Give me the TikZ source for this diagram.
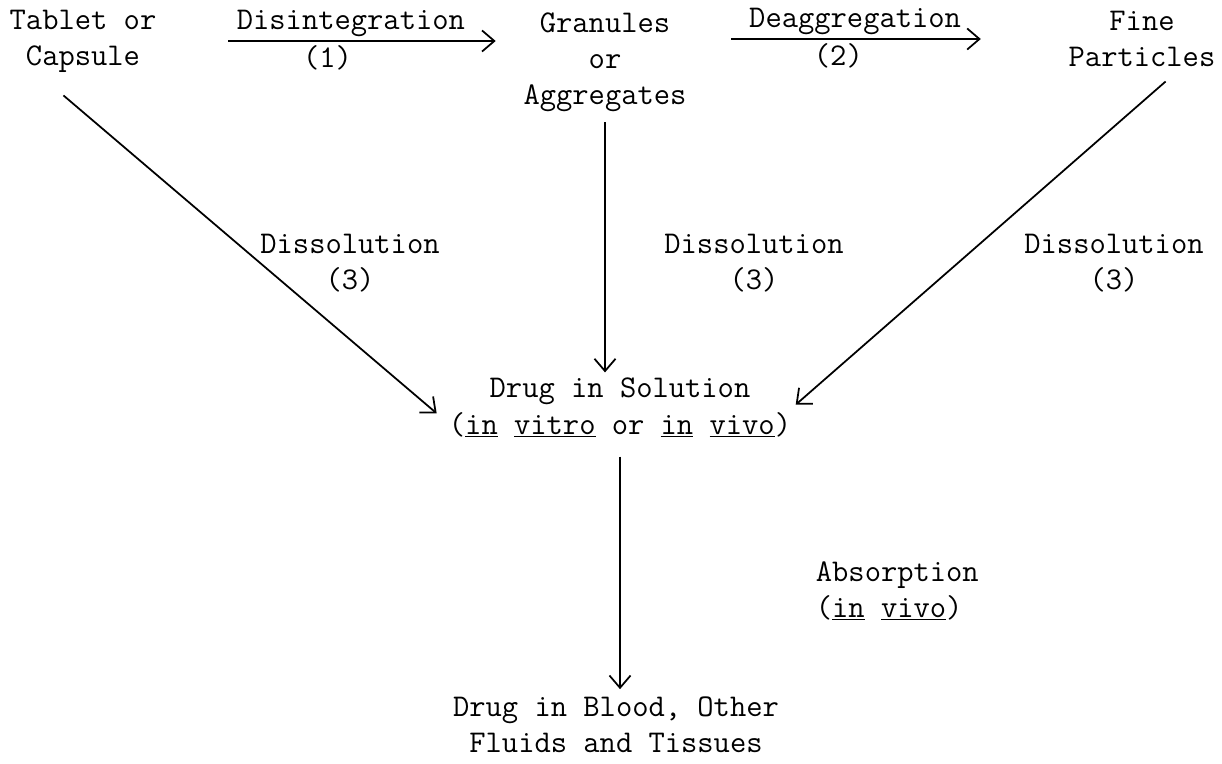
\documentclass[tikz,border=0pt]{standalone}
\usetikzlibrary{arrows.meta}
\newcommand{\tw}{\ttfamily\fontsize{18}{20.5}\selectfont}
\begin{document}
\begin{tikzpicture}[>={Straight Barb[length=7pt,width=12pt]}, line width=1pt,
    every node/.style={font=\tw, align=center, inner sep=0pt}]
\useasboundingbox (0,0) rectangle (24.44,-15.26);
% the stages
\node (tab) at (1.66,-0.82) {Tablet or\\Capsule};
\node (gran) at (12.1,-1.24) {Granules\\or\\Aggregates};
\node (fine) at (22.84,-0.78) {Fine\\Particles};
\node (sol) at (12.4,-8.16) {Drug in Solution\\(\underline{in} \underline{vitro} or \underline{in} \underline{vivo})};
\node (blood) at (12.32,-14.5) {Drug in Blood, Other\\Fluids and Tissues};
% labels
\node (d1) at (7.0,-5.26) {Dissolution\\(3)};
\node (d2) at (15.08,-5.26) {Dissolution\\(3)};
\node (d3) at (22.28,-5.26) {Dissolution\\(3)};
\node[anchor=west, align=left] (abs) at (16.3,-11.82) {Absorption\\(\underline{in} \underline{vivo})};
% arrows
\draw[->, shorten <=1.42cm, shorten >=0.54cm](tab.east)--(tab.east -| gran.west)
    node[pos=0.53, above=2pt]{Disintegration} node[pos=0.466, below=2pt]{(1)};
\draw[->, shorten <=0.88cm, shorten >=1.74cm](fine.west -| gran.east)--(fine.west)
    node[pos=0.441, above=2pt]{Deaggregation} node[pos=0.397, below=2pt]{(2)};
\draw[->, shorten <=0.69cm, shorten >=0.3cm](tab.215)--(sol.185);
\draw[->, shorten <=0.2cm, shorten >=0.1cm](gran.south)--(gran.south |- sol.north);
\draw[->, shorten <=0.42cm, shorten >=0.1cm](fine.324)--(sol.east);
\draw[->, shorten <=0.36cm, shorten >=0.14cm](sol.south)--(sol.south |- blood.north);
\end{tikzpicture}
\end{document}
